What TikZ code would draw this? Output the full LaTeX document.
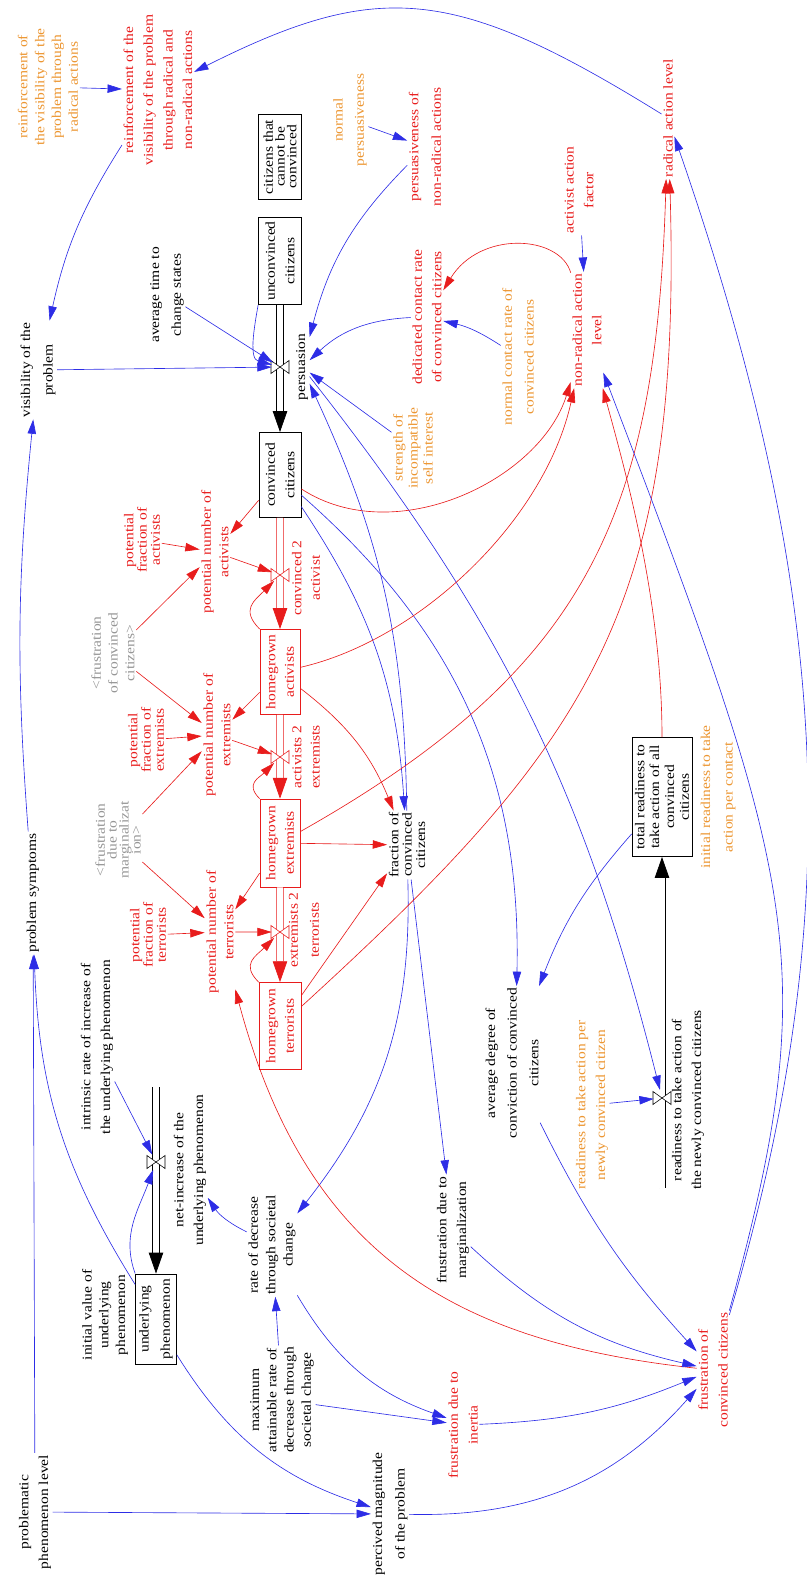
\documentclass[tikz,border=0pt]{standalone}
\usepackage{fontspec}
\setmainfont{Liberation Serif}
\usepackage{tikz}
\usetikzlibrary{arrows.meta}
\definecolor{sdBlue}{RGB}{45,45,230}
\definecolor{sdRed}{RGB}{232,28,28}
\definecolor{sdOrange}{RGB}{236,150,50}
\definecolor{sdGray}{RGB}{150,150,150}

\begin{document}
\begin{tikzpicture}[
  x=0.025cm, y=-0.025cm,
  var/.style={rotate=90, xscale=1.15, align=center, inner sep=1pt,
              font=\fontsize{9.6}{14}\selectfont},
  ld/.style={font=\fontsize{9.6}{#1}\selectfont},
  rd/.style={var, text=sdRed},
  org/.style={var, text=sdOrange},
  shd/.style={var, text=sdGray},
  stock/.style={var, draw, line width=0.5pt, inner sep=0pt},
  rstock/.style={stock, draw=sdRed, text=sdRed},
  vlv/.style={circle, inner sep=0pt, minimum size=4mm},
  link/.style={draw=sdBlue, line width=0.45pt, -{Triangle[length=3.6mm,width=2.1mm]}},
  rlink/.style={link, draw=sdRed},
  pipe/.style={draw=black, double=white, double distance=1.4mm, line width=0.5pt,
               -{Triangle[length=5.2mm,width=3.6mm]}},
  rpipe/.style={pipe, draw=sdRed},
]
\useasboundingbox (0,0) rectangle (807,1579);

% stocks
\node[stock, minimum width=1.85cm, minimum height=1.075cm, ld=8.3] (cannot) at (280,157) {citizens that\\cannot be\\convinced};
\node[stock, minimum width=1.89cm, minimum height=1.075cm] (unconv) at (280,261) {unconvinced\\citizens};
\node[stock, minimum width=1.85cm, minimum height=1.05cm] (conv) at (280,475) {convinced\\citizens};
\node[rstock, minimum width=1.85cm, minimum height=1.0cm, ld=13] (hgact) at (280,672) {homegrown\\activists};
\node[rstock, minimum width=1.91cm, minimum height=1.0cm, ld=13] (hgext) at (280,843) {homegrown\\extremists};
\node[rstock, minimum width=1.89cm, minimum height=1.05cm, ld=13] (hgter) at (280,1026) {homegrown\\terrorists};
\node[stock, minimum width=1.96cm, minimum height=1.025cm, ld=15] (underlying) at (156,1319) {underlying\\phenomenon};
\node[stock, minimum width=2.59cm, minimum height=1.5cm, ld=10.5] (totalready) at (662,797) {total readiness to\\take action of all\\convinced\\citizens};

% valves and flow names
\node[vlv] (vpers) at (280,367) {};
\node[vlv] (vconvact) at (280,575) {};
\node[vlv] (vactext) at (280,757) {};
\node[vlv] (vextter) at (280,932) {};
\node[vlv] (vnetinc) at (156,1162) {};
\node[vlv] (vready) at (662,1098) {};
\coordinate (netsrc) at (156,1087);
\coordinate (readysrc) at (662,1188);
\node[var] (pers) at (302,367) {persuasion};
\node[rd, ld=13] (lconvact) at (306,578) {convinced 2\\activist};
\node[rd, ld=13] (lactext) at (306,757) {activists 2\\extremists};
\node[rd, ld=15] (lextter) at (304,930) {extremists 2\\terrorists};
\node[var] (lnetinc) at (190,1170) {net-increase of the\\underlying phenomenon};
\node[var] (lready) at (688,1100) {readiness to take action of\\the newly convinced citizens};

% auxiliaries
\node[org, ld=12] (reinfrad) at (48,87) {reinforcement of\\the visibility of the\\problem through\\radical actions};
\node[rd] (reinfvis) at (158,90) {reinforcement of the\\visibility of the problem\\through radical and\\non-radical actions};
\node[var, ld=16] (visprob) at (38,370) {visibility of the\\problem};
\node[var, ld=15.4] (avgtime) at (167,295) {average time to\\change states};
\node[org, ld=15] (normpers) at (350,120) {normal\\persuasiveness};
\node[rd, ld=16] (persnonrad) at (425,147) {persuasiveness of\\non-radical actions};
\node[rd] (dedrate) at (427,317) {dedicated contact rate\\of convinced citizens};
\node[org, ld=15.4] (normrate) at (518,357) {normal contact rate of\\convinced citizens};
\node[rd] (radlevel) at (668,118) {radical action level};
\node[rd] (actfactor) at (579,190) {activist action\\factor};
\node[rd] (nonradlevel) at (587,330) {non-radical action\\level};
\node[org, ld=10.7] (strength) at (413,448) {strength of\\incompatible\\self interest};
\node[rd, ld=9.5] (potfracact) at (142,540) {potential\\fraction of\\activists};
\node[rd, ld=12.5] (potnumact) at (215,552) {potential number of\\activists};
\node[shd, ld=11.9] (frustshad) at (113,653) {<frustration\\of convinced\\citizens>};
\node[rd, ld=9.5] (potfracext) at (146,740) {potential\\fraction of\\extremists};
\node[rd, ld=12.5] (potnumext) at (217,735) {potential number of\\extremists};
\node[shd, ld=8.5] (margshad) at (118,840) {<frustration\\due to\\marginalizat\\ion>};
\node[rd, ld=9.5] (potfracter) at (148,935) {potential\\fraction of\\terrorists};
\node[rd, ld=12.5] (potnumter) at (220,932) {potential number of\\terrorists};
\node[var, ld=9.5] (fracconv) at (407,845) {fraction of\\convinced\\citizens};
\node[var] (symptoms) at (33,893) {problem symptoms};
\node[var] (intrinsic) at (97,1047) {intrinsic rate of increase of\\the underlying phenomenon};
\node[var, ld=11.9] (initval) at (105,1315) {initial value of\\underlying\\phenomenon};
\node[var] (probphen) at (35,1512) {problematic\\phenomenon level};
\node[var, ld=12.4] (ratedec) at (272,1245) {rate of decrease\\through societal\\change};
\node[var, ld=12.3] (maxrate) at (282,1400) {maximum\\attainable rate of\\decrease through\\societal change};
\node[var] (frustmarg) at (453,1230) {frustration due to\\marginalization};
\node[rd] (frustinert) at (463,1425) {frustration due to\\inertia};
\node[var, ld=16] (perceived) at (390,1514) {percived magnitude\\of the problem};
\node[var, ld=15.4] (avgdeg) at (512,1063) {average degree of\\conviction of convinced\\citizens};
\node[org, ld=16] (initready) at (718,797) {initial readiness to take\\action per contact};
\node[org] (readyper) at (592,1105) {readiness to take action per\\newly convinced citizen};
\node[rd] (frustconv) at (713,1370) {frustration of\\convinced citizens};

% pipes
\draw[pipe] (unconv) -- (conv);
\draw[rpipe] (conv) -- (hgact);
\draw[rpipe] (hgact) -- (hgext);
\draw[rpipe] (hgext) -- (hgter);
\draw[pipe] (netsrc) -- (underlying);
\draw[pipe] (readysrc) -- (totalready);
\foreach \v/\c in {vpers/black, vconvact/sdRed, vactext/sdRed, vextter/sdRed, vnetinc/black, vready/black}
  \draw[draw=\c, fill=white, line width=0.4pt] (\v.center) -- ++(-9,-6.5) -- ++(0,13) -- cycle
    (\v.center) -- ++(9,-6.5) -- ++(0,13) -- cycle;

% blue links
\draw[link] (reinfrad) -- (reinfvis);
\draw[link] (radlevel) .. controls (455,-14) and (379,-21) .. (reinfvis);
\draw[link] (reinfvis) to[bend right=10] (visprob);
\draw[link] (symptoms) to[bend left=5] (visprob);
\draw[link] (visprob) -- (vpers);
\draw[link] (avgtime) -- (vpers);
\draw[link] (unconv.north west) to[out=-100, in=165] (vpers);
\draw[link] (normpers) -- (persnonrad);
\draw[link] (persnonrad) to[bend right=15] (pers);
\draw[link] (dedrate) to[bend right=20] (pers);
\draw[link] (normrate) to[bend right=10] (dedrate);
\draw[link] (actfactor) -- (nonradlevel);
\draw[link] (strength) -- (pers);
\draw[link] (fracconv) to[bend right=12] (pers);
\draw[link] (conv) to[bend left=15] (fracconv);
\draw[link] (conv) to[bend left=25] (avgdeg);
\draw[link] (pers) to[bend left=12] (vready);
\draw[link] (totalready) to[bend right=10] (avgdeg);
\draw[link] (readyper) -- (vready);
\draw[link] (fracconv) to[bend left=20] (ratedec);
\draw[link] (fracconv) -- (frustmarg);
\draw[link] (ratedec) to[bend left=15] (lnetinc);
\draw[link] (maxrate) -- (ratedec);
\draw[link] (maxrate) -- (frustinert);
\draw[link] (ratedec) to[bend right=20] (frustinert);
\draw[link] (intrinsic) -- (vnetinc);
\draw[link] (underlying.north east) to[out=110, in=-110] (vnetinc);
\draw[link] (underlying) to[bend left=15] (symptoms);
\draw[link] (probphen) -- (symptoms);
\draw[link] (probphen) -- (perceived);
\draw[link] (underlying) to[bend right=20] (perceived);

% red links
\draw[rlink] (nonradlevel) .. controls (560,235) and (480,230) .. (dedrate);
\draw[rlink] (conv) -- (potnumact);
\draw[rlink] (potfracact) -- (potnumact);
\draw[rlink] (frustshad) -- (potnumact);
\draw[rlink] (frustshad) -- (potnumext);
\draw[rlink] (potnumact) -- (vconvact);
\draw[rlink] (hgact.north east) to[out=135, in=-135, looseness=1.4] (vconvact);
\draw[rlink] (potfracext) -- (potnumext);
\draw[rlink] (hgact) -- (potnumext);
\draw[rlink] (potnumext) -- (vactext);
\draw[rlink] (hgext.north east) to[out=135, in=-135, looseness=1.4] (vactext);
\draw[rlink] (margshad) -- (potnumext);
\draw[rlink] (margshad) -- (potnumter);
\draw[rlink] (potfracter) -- (potnumter);
\draw[rlink] (hgext) -- (potnumter);
\draw[rlink] (potnumter) -- (vextter);
\draw[rlink] (hgter.north east) to[out=135, in=-135, looseness=1.4] (vextter);
\draw[rlink] (hgact) to[bend left=15] (fracconv);
\draw[rlink] (hgext) -- (fracconv);
\draw[rlink] (hgter) -- (fracconv);
\draw[rlink] (conv) .. controls (395,550) and (540,480) .. (nonradlevel);
\draw[rlink] (hgact) .. controls (420,640) and (545,520) .. (nonradlevel);
\draw[rlink] (totalready) .. controls (662,600) and (625,470) .. (nonradlevel);
\draw[rlink] (hgext) .. controls (592,667) and (656,510) .. (radlevel);
\draw[rlink] (hgter) .. controls (592,741) and (682,609) .. (radlevel);
\draw[rlink] (frustconv) .. controls (453,1342) and (306,1254) .. (potnumter);

% into frustration of convinced citizens
\draw[link] (frustmarg) to[bend right=15] (frustconv);
\draw[link] (frustinert) to[bend right=10] (frustconv);
\draw[link] (avgdeg) to[bend right=8] (frustconv);
\draw[link] (perceived) to[bend right=25] (frustconv);
\draw[link] (frustconv) .. controls (825,963) and (796,878) .. (nonradlevel);
\draw[link] (frustconv) .. controls (848,914) and (834,598) .. (radlevel);
\end{tikzpicture}
\end{document}
